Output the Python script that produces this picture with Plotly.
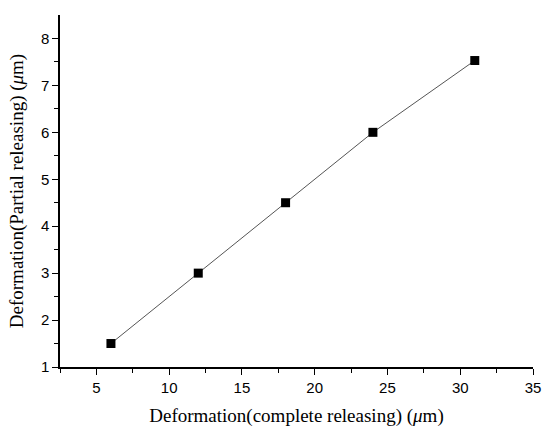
import plotly.graph_objects as go

x_complete = [6, 12, 18, 24, 31]
y_partial = [1.5, 3.0, 4.5, 6.0, 7.53]

fig = go.Figure()
fig.add_trace(go.Scatter(
    x=x_complete, y=y_partial, mode="lines+markers",
    line=dict(color="#555555", width=1),
    marker=dict(symbol="square", size=9, color="black"),
    showlegend=False,
))

axis_common = dict(
    showgrid=False, zeroline=False, showline=True, linecolor="black", linewidth=1.5,
    ticks="outside", ticklen=6, tickwidth=1.2, tickcolor="black",
    tickfont=dict(family="Liberation Sans, Arial", size=15, color="black"),
    mirror=False, automargin=False,
)

fig.update_layout(
    width=542, height=427,
    margin=dict(l=60, r=9, t=15, b=60),
    paper_bgcolor="white", plot_bgcolor="white",
    xaxis=dict(
        range=[2.5, 35], tickvals=[5, 10, 15, 20, 25, 30, 35],
        minor=dict(tickvals=[2.5, 7.5, 12.5, 17.5, 22.5, 27.5, 32.5], ticks="outside", ticklen=4, tickcolor="black", tickwidth=1),
        title=dict(text="Deformation(complete releasing) (<i>μ</i>m)",
                   font=dict(family="Liberation Serif, Times New Roman", size=19, color="black"), standoff=20),
        **axis_common,
    ),
    yaxis=dict(
        range=[1, 8.5], tickvals=[1, 2, 3, 4, 5, 6, 7, 8],
        minor=dict(tickvals=[1.5, 2.5, 3.5, 4.5, 5.5, 6.5, 7.5], ticks="outside", ticklen=4, tickcolor="black", tickwidth=1),
        title=dict(text="Deformation(Partial releasing) (<i>μ</i>m)",
                   font=dict(family="Liberation Serif, Times New Roman", size=19, color="black"), standoff=12),
        **axis_common,
    ),
)

fig.write_html("out.html")
